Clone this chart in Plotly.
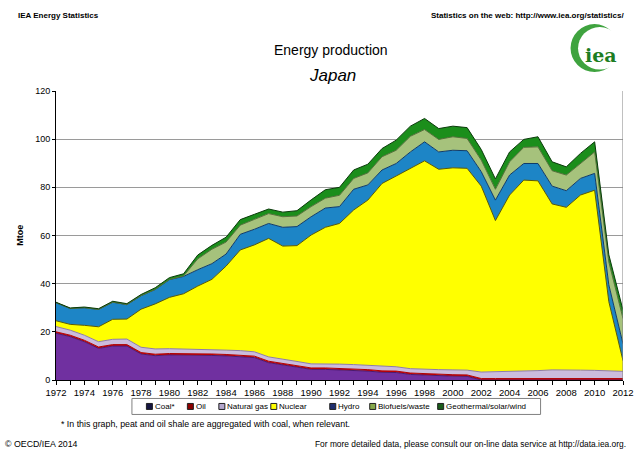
import plotly.graph_objects as go

# ---------------- data (Mtoe) ----------------
years = list(range(1972, 2013))

coal = [19.4, 18.0, 15.9, 13.1, 14.1, 14.1, 10.8, 10.1, 10.4, 10.4,
        10.5, 10.2, 10.0, 9.7, 9.3, 7.2, 6.2, 5.5, 4.4, 4.4,
        4.2, 4.0, 3.7, 3.2, 3.1, 2.3, 2.0, 1.8, 1.6, 1.5,
        0.0, 0.0, 0.0, 0.0, 0.0, 0.0, 0.0, 0.0, 0.0, 0.0, 0.0]

oil = [0.6] * 41

natural_gas = [2.2, 2.1, 2.1, 2.2, 2.2, 2.3, 2.2, 2.2, 2.0, 1.9,
               1.8, 1.8, 1.8, 1.9, 1.8, 1.8, 1.7, 1.6, 1.7, 1.8,
               1.8, 1.8, 1.8, 1.8, 1.8, 1.8, 1.8, 1.9, 2.0, 2.0,
               2.7, 2.8, 2.9, 3.1, 3.3, 3.6, 3.7, 3.5, 3.4, 3.1, 3.0]

nuclear = [2.4, 2.4, 4.1, 6.2, 8.3, 8.3, 15.8, 18.7, 21.3, 22.9,
           26.1, 29.2, 34.9, 41.8, 44.4, 49.2, 47.1, 48.1, 53.5, 56.6,
           58.4, 64.2, 68.6, 76.0, 79.2, 83.2, 86.6, 83.2, 83.9, 83.8,
           77.2, 62.8, 73.3, 79.3, 78.8, 68.9, 67.4, 72.7, 74.8, 28.8, 4.4]

hydro = [7.5, 6.6, 7.3, 7.2, 7.1, 6.0, 5.6, 6.0, 7.4, 7.2,
         6.8, 6.5, 5.0, 6.5, 6.5, 6.2, 7.8, 7.9, 7.6, 8.0,
         7.0, 8.6, 6.3, 5.6, 5.2, 6.8, 7.9, 7.2, 7.3, 7.3,
         6.0, 8.5, 8.3, 6.9, 7.2, 7.4, 6.9, 6.9, 7.0, 7.0, 7.0]

biofuels_waste = [0.0, 0.0, 0.0, 0.0, 0.0, 0.0, 0.0, 0.0, 0.0, 0.2,
                  4.5, 6.0, 5.0, 3.8, 4.1, 4.1, 4.4, 4.4, 4.2, 4.1,
                  4.7, 4.5, 5.0, 5.5, 5.5, 6.5, 5.1, 5.2, 5.6, 5.1,
                  4.8, 4.5, 5.5, 6.7, 6.9, 6.4, 6.5, 6.2, 8.9, 9.5, 10.5]

geo_solar_wind = [0.2, 0.2, 0.3, 0.3, 0.4, 0.4, 0.5, 0.7, 0.8, 0.9,
                  1.6, 1.6, 2.0, 2.3, 2.1, 1.9, 1.9, 2.2, 2.8, 3.5,
                  3.3, 3.5, 3.6, 3.4, 4.2, 4.2, 4.6, 4.5, 4.4, 4.5,
                  4.4, 4.3, 4.1, 3.3, 4.2, 3.7, 3.4, 4.2, 4.2, 3.0, 3.5]

series_names = ["Coal*", "Oil", "Natural gas", "Nuclear", "Hydro",
                "Biofuels/waste", "Geothermal/solar/wind"]
series_values = [coal, oil, natural_gas, nuclear, hydro, biofuels_waste, geo_solar_wind]

x_tick_labels = [str(y) for y in range(1972, 2013, 2)]
y_tick_values = [0, 20, 40, 60, 80, 100, 120]

# ---------------- styles ----------------
fill_colors = ["#7030A0", "#D40000", "#CBBCDD", "#FFFF00", "#1D85C6", "#A6C27C", "#1B8E1B"]
line_colors = ["#4A1A70", "#B00000", "#8E7BAA", "#5A5A00", "#0E3A6A", "#55703A", "#0A3A0A"]
legend_colors = ["#151540", "#8B0000", "#B3A6CC", "#FFFF00", "#1F2E6E", "#86A84A", "#1A5C1A"]

W, H = 638, 458
L, R, T, B = 56, 623.5, 91, 380.5


def px(x):
    return (x - L) / (R - L)


def py(y):
    return (B - y) / (B - T)


FONT = "Liberation Sans, Arial, sans-serif"

fig = go.Figure()
for name, vals, fc, lc in zip(series_names, series_values, fill_colors, line_colors):
    fig.add_trace(go.Scatter(
        x=years, y=vals, name=name, mode="lines", stackgroup="one",
        line=dict(color=lc, width=1), fillcolor=fc, showlegend=False,
    ))

shapes = []
annotations = []

# right border of plot
shapes.append(dict(type="line", xref="x", yref="y", x0=2012, x1=2012, y0=0, y1=120,
                   line=dict(color="#808080", width=1)))

# legend (manual, compact like the original)
shapes.append(dict(type="rect", xref="paper", yref="paper",
                   x0=px(132), x1=px(541), y0=py(399), y1=py(415),
                   line=dict(color="#808080", width=1), fillcolor="white", layer="below"))
legend_x = [146.5, 187.5, 219, 271, 330, 370, 438]
for lx, name, col in zip(legend_x, series_names, legend_colors):
    shapes.append(dict(type="rect", xref="paper", yref="paper",
                       x0=px(lx), x1=px(lx + 6), y0=py(404), y1=py(410),
                       line=dict(color="#202020", width=1), fillcolor=col))
    annotations.append(dict(xref="paper", yref="paper", x=px(lx + 6.5), y=py(407),
                            text=name, showarrow=False, xanchor="left", yanchor="middle",
                            font=dict(family=FONT, size=8, color="black")))

# titles
annotations.append(dict(xref="paper", yref="paper", x=px(331.5), y=py(50), text="Energy production",
                        showarrow=False, xanchor="center", yanchor="middle",
                        font=dict(family=FONT, size=14, color="black")))
annotations.append(dict(xref="paper", yref="paper", x=px(332.5), y=py(75), text="<i>Japan</i>",
                        showarrow=False, xanchor="center", yanchor="middle",
                        font=dict(family=FONT, size=17, color="black")))

# header texts
annotations.append(dict(xref="paper", yref="paper", x=px(16), y=py(15), text="<b>IEA Energy Statistics</b>",
                        showarrow=False, xanchor="left", yanchor="middle",
                        font=dict(family=FONT, size=8, color="black")))
annotations.append(dict(xref="paper", yref="paper", x=px(627), y=py(15),
                        text="<b>Statistics on the web: http://www.iea.org/statistics/</b>",
                        showarrow=False, xanchor="right", yanchor="middle",
                        font=dict(family=FONT, size=8, color="black")))

# footer texts
annotations.append(dict(xref="paper", yref="paper", x=px(59), y=py(425),
                        text="* In this graph, peat and oil shale are aggregated with coal, when relevant.",
                        showarrow=False, xanchor="left", yanchor="middle",
                        font=dict(family=FONT, size=8.8, color="black")))
annotations.append(dict(xref="paper", yref="paper", x=px(3), y=py(445), text="© OECD/IEA 2014",
                        showarrow=False, xanchor="left", yanchor="middle",
                        font=dict(family=FONT, size=8.8, color="black")))
annotations.append(dict(xref="paper", yref="paper", x=px(629), y=py(445),
                        text="For more detailed data, please consult our on-line data service at http://data.iea.org.",
                        showarrow=False, xanchor="right", yanchor="middle",
                        font=dict(family=FONT, size=8.4, color="black")))

# y-axis title
annotations.append(dict(xref="paper", yref="paper", x=px(20), y=py(236), text="<b>Mtoe</b>",
                        showarrow=False, textangle=-90, xanchor="center", yanchor="middle",
                        font=dict(family=FONT, size=9, color="black")))

# IEA logo (crescent + text)
shapes.append(dict(type="circle", xref="paper", yref="paper",
                   x0=px(571), x1=px(619), y0=py(72), y1=py(24),
                   line=dict(width=0), fillcolor="#3FA33F"))
shapes.append(dict(type="circle", xref="paper", yref="paper",
                   x0=px(578.5), x1=px(622), y0=py(69.5), y1=py(27),
                   line=dict(width=0), fillcolor="white"))
annotations.append(dict(xref="paper", yref="paper", x=px(601), y=py(55), text="<b>iea</b>",
                        showarrow=False, xanchor="center", yanchor="middle",
                        font=dict(family="DejaVu Serif, Liberation Serif, serif", size=19, color="#1E7D22")))

fig.update_layout(
    width=W, height=H,
    margin=dict(l=L, r=W - R, t=T, b=H - B, pad=0, autoexpand=False),
    paper_bgcolor="white", plot_bgcolor="white",
    showlegend=False,
    font=dict(family=FONT, size=9, color="black"),
    shapes=shapes, annotations=annotations,
    xaxis=dict(range=[1972, 2012], tickvals=list(range(1972, 2013, 2)), ticktext=x_tick_labels,
               showgrid=False, zeroline=False, showline=True, linecolor="black", linewidth=1,
               ticks="outside", ticklen=4, tickcolor="black", automargin=False,
               minor=dict(dtick=1, ticks="outside", ticklen=4, tickcolor="black"),
               tickfont=dict(family=FONT, size=9.5), fixedrange=True),
    yaxis=dict(range=[0, 120], tickvals=y_tick_values, showgrid=True, gridcolor="#9A9A9A",
               gridwidth=1, zeroline=False, showline=True, linecolor="black", linewidth=1,
               ticks="outside", ticklen=3, tickcolor="black", automargin=False,
               tickfont=dict(family=FONT, size=9), fixedrange=True),
)

fig.write_html("out.html", config={"displayModeBar": False},
               post_script="document.body.style.margin='0px';document.body.style.overflow='hidden';")
